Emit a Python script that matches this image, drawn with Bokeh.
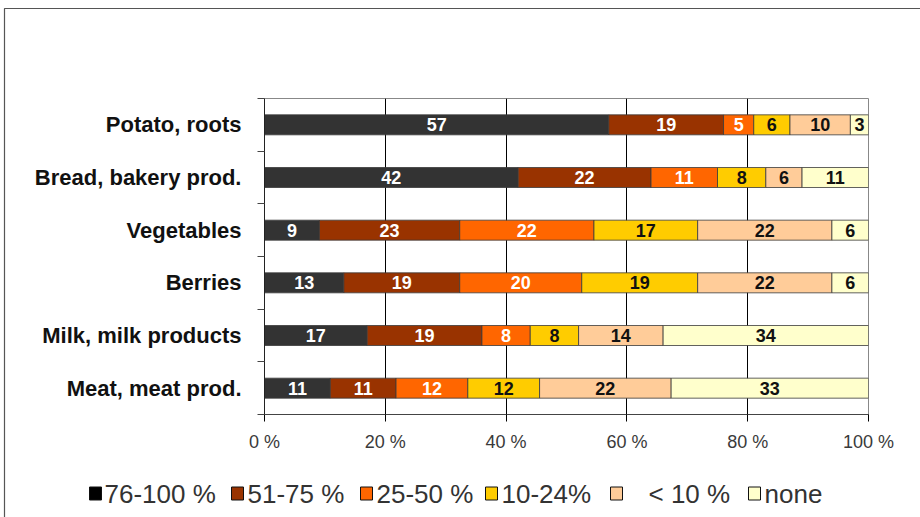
import numpy as np
from bokeh.plotting import figure
from bokeh.models import Range1d, FixedTicker, ColumnDataSource
from bokeh.core.properties import value
from bokeh.embed import file_html
from bokeh.resources import INLINE

# Food groups, top to bottom
categories = ["Potato, roots", "Bread, bakery prod.", "Vegetables",
              "Berries", "Milk, milk products", "Meat, meat prod."]

# Share classes (stack order left to right)
classes = ["76-100 %", "51-75 %", "25-50 %", "10-24%", "< 10 %", "none"]

# Percent of respondents in each class, per food group
share_76_100 = [57, 42, 9, 13, 17, 11]
share_51_75 = [19, 22, 23, 19, 19, 11]
share_25_50 = [5, 11, 22, 20, 8, 12]
share_10_24 = [6, 8, 17, 19, 8, 12]
share_lt_10 = [10, 6, 22, 22, 14, 22]
share_none = [3, 11, 6, 6, 34, 33]

x_ticks = [0, 20, 40, 60, 80, 100]

colors = ["#333333", "#993300", "#FF6600", "#FFCC00", "#FFCC99", "#FFFFCC"]
legend_colors = ["#000000", "#993300", "#FF6600", "#FFCC00", "#FFCC99", "#FFFFCC"]
label_colors = ["#FFFFFF", "#FFFFFF", "#FFFFFF", "#111111", "#111111", "#111111"]

series = [share_76_100, share_51_75, share_25_50, share_10_24, share_lt_10, share_none]
vals = np.array(series, dtype=float).T            # rows = categories
pct = vals / vals.sum(axis=1, keepdims=True) * 100  # 100 % stacked
right = np.cumsum(pct, axis=1)
left = right - pct

n = len(categories)
ypos = np.arange(n)[::-1].astype(float)  # first category on top

W, H = 920, 517
FL, FR, FT, FB = 264, 868, 98, 414  # frame edges in pixels

p = figure(width=W, height=H, output_backend="svg", toolbar_location=None,
           x_range=Range1d(0, 100), y_range=Range1d(-0.5, n - 0.5),
           min_border_left=FL, min_border_right=W - FR,
           min_border_top=FT, min_border_bottom=H - FB,
           background_fill_color="white", border_fill_color="white")

px_per_x = (FR - FL) / 100.0
px_per_y = (FB - FT) / float(n)


def sx(px):
    return (px - FL) / px_per_x


def sy(py):
    return (n - 0.5) - (py - FT) / px_per_y


# gridlines
p.xgrid.ticker = FixedTicker(ticks=x_ticks[1:])
p.xgrid.grid_line_color = "#000000"
p.xgrid.grid_line_width = 1
p.ygrid.grid_line_color = None
p.outline_line_color = "#888888"
p.outline_line_width = 1

# bars
bar_h = 20 / px_per_y
for j in range(len(classes)):
    src = ColumnDataSource(dict(y=ypos, left=left[:, j], right=right[:, j]))
    p.hbar(y="y", left="left", right="right", height=bar_h, source=src,
           fill_color=colors[j], line_color="#3a3a3a", line_width=0.8)

# value labels
for j in range(len(classes)):
    src = ColumnDataSource(dict(x=(left[:, j] + right[:, j]) / 2, y=ypos,
                                t=[str(int(v)) for v in vals[:, j]]))
    p.text(x="x", y="y", text="t", source=src, text_align="center",
           text_baseline="middle", text_font=value("Liberation Sans"),
           text_font_style="bold", text_font_size="18px",
           text_color=label_colors[j])

# x axis
xa = p.xaxis[0]
xa.ticker = FixedTicker(ticks=x_ticks)
xa.major_label_overrides = {t: f"{t} %" for t in x_ticks}
xa.major_label_text_font = "Liberation Sans"
xa.major_label_text_font_size = "18px"
xa.major_label_text_color = "#3a3a3a"
xa.major_label_standoff = 10
xa.major_tick_out = 7
xa.major_tick_in = 0
xa.minor_tick_out = 0
xa.minor_tick_in = 0
xa.axis_line_color = "#444444"
xa.major_tick_line_color = "#000000"

# y axis: labels at bar centres, ticks between groups
ya = p.yaxis[0]
ya.ticker = FixedTicker(ticks=list(ypos), minor_ticks=[k - 0.5 for k in range(n + 1)])
ya.major_label_overrides = {float(y): c for y, c in zip(ypos, categories)}
ya.major_label_text_font = "Liberation Sans"
ya.major_label_text_font_style = "bold"
ya.major_label_text_font_size = "22px"
ya.major_label_text_color = "#111111"
ya.major_label_standoff = 16
ya.major_tick_out = 0
ya.major_tick_in = 0
ya.minor_tick_out = 7
ya.minor_tick_in = 0
ya.minor_tick_line_color = "#444444"
ya.axis_line_color = "#222222"

# legend row below the axis
sq_left = [89, 231, 360, 485, 610, 748]
txt_left = [104, 247, 376, 501, 648, 764]
leg_y = sy(493)
sq = p.rect(x=[sx(v + 6) for v in sq_left], y=[leg_y] * 6, width=12, height=13,
            width_units="screen", height_units="screen",
            fill_color=legend_colors, line_color="#111111", line_width=1)
sq.level = "overlay"
lt = p.text(x=[sx(v) for v in txt_left], y=[leg_y] * 6, text=classes,
            text_align="left", text_baseline="middle",
            text_font=value("Liberation Sans"), text_font_size="26px",
            text_color="#333333")
lt.level = "overlay"

# outer frame of the figure panel
fr = p.line(x=[sx(4), sx(4), sx(930)], y=[sy(530), sy(8), sy(8)],
            line_color="#555555", line_width=1.2)
fr.level = "overlay"

open("out.html", "w").write(file_html(p, INLINE))
